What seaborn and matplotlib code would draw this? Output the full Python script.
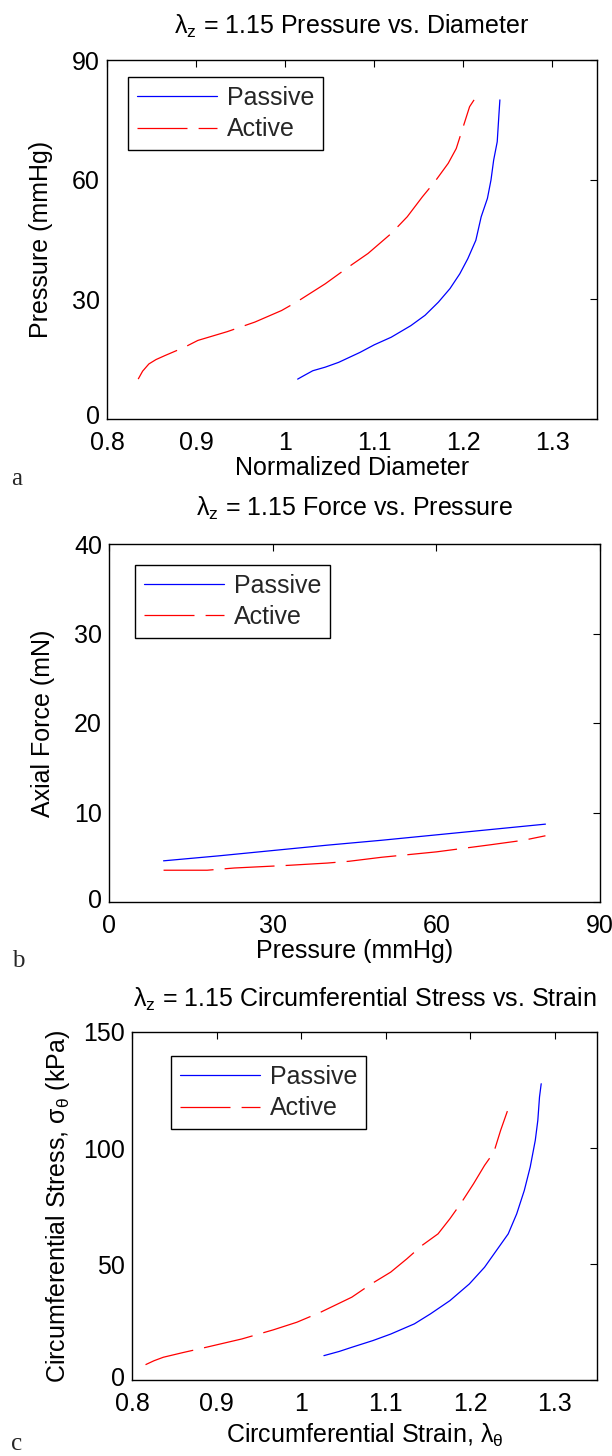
import matplotlib
matplotlib.use("Agg")
import matplotlib.pyplot as plt
import matplotlib.transforms as mtransforms
import seaborn as sns

# ---- Panel a: pressure vs. normalized diameter ----
a_passive_diam = [1.014, 1.022, 1.031, 1.045, 1.060, 1.084, 1.100, 1.119, 1.141, 1.157, 1.172,
                  1.185, 1.196, 1.205, 1.214, 1.220, 1.227, 1.231, 1.234, 1.238, 1.240, 1.241]
a_passive_pres = [10.0, 11.0, 12.1, 13.0, 14.2, 16.7, 18.6, 20.5, 23.4, 26.0, 29.3,
                  32.7, 36.4, 40.2, 44.8, 50.7, 55.3, 59.9, 64.9, 69.5, 76.6, 80.0]
a_active_diam = [0.835, 0.840, 0.847, 0.855, 0.865, 0.887, 0.902, 0.935, 0.966, 0.996, 1.014,
                 1.045, 1.071, 1.093, 1.119, 1.137, 1.154, 1.168, 1.183, 1.192, 1.198,
                 1.207, 1.212]
a_active_pres = [10.0, 12.0, 13.8, 14.9, 15.9, 18.0, 19.7, 21.9, 24.3, 27.2, 29.5,
                 33.9, 38.1, 41.5, 46.5, 50.7, 55.7, 59.5, 64.1, 67.8, 72.0,
                 78.3, 80.0]

# ---- Panel b: axial force vs. pressure ----
b_passive_pres = [10, 20, 30, 40, 50, 60, 70, 80]
b_passive_force = [4.6, 5.15, 5.75, 6.35, 6.9, 7.5, 8.1, 8.7]
b_active_pres = [10, 18, 23, 28, 33, 40, 44, 50, 55, 60, 65, 70, 76, 80]
b_active_force = [3.55, 3.55, 3.8, 3.95, 4.1, 4.35, 4.55, 5.0, 5.3, 5.6, 6.0, 6.4, 6.9, 7.4]

# ---- Panel c: circumferential stress vs. strain ----
c_passive_strain = [1.027, 1.045, 1.060, 1.085, 1.106, 1.134, 1.153, 1.176, 1.199, 1.217,
                    1.231, 1.245, 1.255, 1.264, 1.271, 1.277, 1.280, 1.282, 1.284]
c_passive_stress = [10.5, 12.3, 14.1, 17.0, 19.8, 24.2, 28.5, 34.2, 41.4, 48.6,
                    55.8, 63.0, 71.6, 81.7, 91.8, 103.3, 111.9, 122.0, 127.7]
c_active_strain = [0.816, 0.826, 0.837, 0.860, 0.883, 0.930, 0.967, 0.995, 1.023, 1.060,
                   1.083, 1.106, 1.125, 1.143, 1.162, 1.176, 1.190, 1.204, 1.217, 1.228,
                   1.236, 1.244]
c_active_stress = [6.6, 8.3, 9.8, 11.8, 13.7, 17.7, 21.6, 24.9, 29.2, 35.7,
                   41.4, 46.5, 52.2, 58.0, 63.0, 69.5, 76.7, 84.6, 92.5, 98.2,
                   107.6, 115.9]

series_labels = ["Passive", "Active"]

titles = [r"$\mathregular{\lambda_z}$ = 1.15 Pressure vs. Diameter",
          r"$\mathregular{\lambda_z}$ = 1.15 Force vs. Pressure",
          r"$\mathregular{\lambda_z}$ = 1.15 Circumferential Stress vs. Strain"]
xlabels = ["Normalized Diameter", "Pressure (mmHg)",
           r"Circumferential Strain, $\mathregular{\lambda_\theta}$"]
ylabels = ["Pressure (mmHg)", "Axial Force (mN)",
           r"Circumferential Stress, $\mathregular{\sigma_\theta}$ (kPa)"]
panel_letters = ["a", "b", "c"]

sns.set_theme(style="white")
plt.rcParams["font.family"] = ["Liberation Sans", "DejaVu Sans"]
plt.rcParams["mathtext.fontset"] = "custom"
plt.rcParams["mathtext.rm"] = "Liberation Sans"
plt.rcParams["mathtext.it"] = "Liberation Sans:italic"
plt.rcParams["lines.scale_dashes"] = False

FS = 18
W, H = 612, 1456
fig = plt.figure(figsize=(W / 100, H / 100), dpi=100)


def px_axes(left, top, right, bottom):
    return fig.add_axes([left / W, 1 - bottom / H, (right - left) / W, (bottom - top) / H])


axes = [px_axes(107, 60, 597, 419), px_axes(109, 544, 600, 902), px_axes(132, 1032, 597, 1380)]

data = [
    (a_passive_diam, a_passive_pres, a_active_diam, a_active_pres),
    (b_passive_pres, b_passive_force, b_active_pres, b_active_force),
    (c_passive_strain, c_passive_stress, c_active_strain, c_active_stress),
]
xlims = [(0.8, 1.35), (0, 90), (0.8, 1.35)]
ylims = [(0, 90), (0, 40), (0, 150)]
xticks = [[0.8, 0.9, 1.0, 1.1, 1.2, 1.3], [0, 30, 60, 90], [0.8, 0.9, 1.0, 1.1, 1.2, 1.3]]
xticklabels = [["0.8", "0.9", "1", "1.1", "1.2", "1.3"], ["0", "30", "60", "90"],
               ["0.8", "0.9", "1", "1.1", "1.2", "1.3"]]
yticks = [[0, 30, 60, 90], [0, 10, 20, 30, 40], [0, 50, 100, 150]]
legend_px = [(128, 77), (135, 565), (171, 1056)]
letter_px = [(17, 479), (18, 961), (17, 1444)]
title_pad = [19, 20, 18]
ylabel_pad = [14, 14, 8]
xlabel_pad = [1, 1, 4]

# nudge for the y-axis "0" so it sits clear of the first x tick label
zero_lift = mtransforms.ScaledTranslation(0, 4 / 100, fig.dpi_scale_trans)

for i, ax in enumerate(axes):
    px, py, ax_x, ax_y = data[i]
    sns.lineplot(x=px, y=py, ax=ax, color="#0000ff", linewidth=0.9,
                 estimator=None, sort=False, label=series_labels[0])
    sns.lineplot(x=ax_x, y=ax_y, ax=ax, color="#ff0000", linewidth=0.9,
                 estimator=None, sort=False, label=series_labels[1],
                 linestyle=(0, (36, 8)))
    ax.set_xlim(*xlims[i])
    ax.set_ylim(*ylims[i])
    ax.set_xticks(xticks[i])
    ax.set_xticklabels(xticklabels[i])
    ax.set_yticks(yticks[i])
    ax.tick_params(direction="in", top=True, right=True, length=5, width=0.8,
                   color="black", labelsize=FS, labelcolor="black")
    ax.tick_params(axis="x", pad=8.5)
    ax.tick_params(axis="y", pad=5)
    for s in ax.spines.values():
        s.set_color("black")
        s.set_linewidth(1.0)
    ax.set_title(titles[i], fontsize=FS, color="black", pad=title_pad[i])
    ax.set_xlabel(xlabels[i], fontsize=FS, color="black", labelpad=xlabel_pad[i])
    ax.set_ylabel(ylabels[i], fontsize=FS, color="black", labelpad=ylabel_pad[i])
    lx, ly = legend_px[i]
    leg = ax.legend(loc="upper left", bbox_to_anchor=(lx / W, 1 - ly / H),
                    bbox_transform=fig.transFigure, borderaxespad=0,
                    fontsize=FS, frameon=True, fancybox=False, shadow=False,
                    framealpha=1, edgecolor="black", handlelength=3.2,
                    handletextpad=0.4, borderpad=0.35, labelspacing=0.3)
    leg.get_frame().set_linewidth(1.0)
    tx, ty = letter_px[i]
    fig.text(tx / W, 1 - ty / H, panel_letters[i], fontsize=FS,
             family="Liberation Serif", ha="center", va="center")

fig.canvas.draw()
for ax in axes:
    zero_label = ax.yaxis.get_major_ticks()[0].label1
    zero_label.set_transform(zero_label.get_transform() + zero_lift)

fig.savefig("out.png", dpi=100)
